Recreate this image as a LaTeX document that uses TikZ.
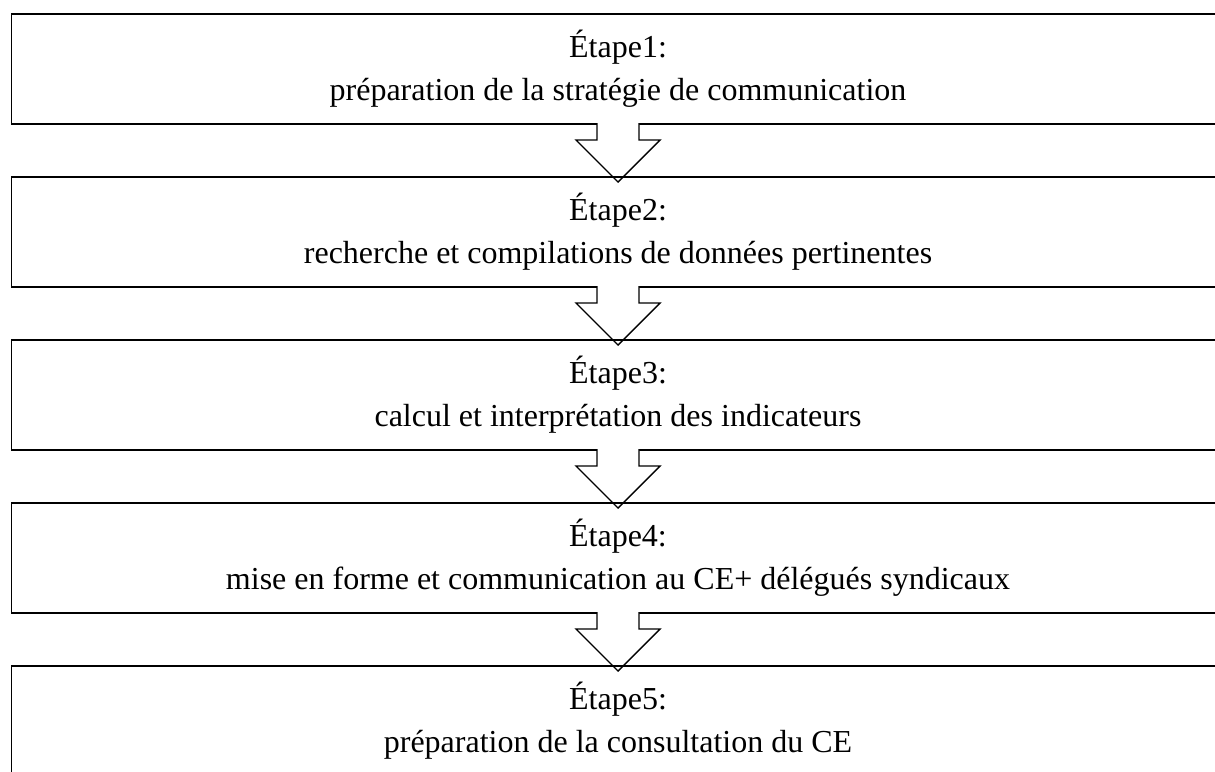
\documentclass[tikz,border=0pt]{standalone}
\usepackage{fontspec}
\setmainfont{Liberation Serif}
\usetikzlibrary{positioning}

\tikzset{
  etape/.style={draw, line width=1.5pt, minimum width=1213pt, minimum height=110pt,
    inner sep=0pt, outer sep=0pt, align=center, font=\fontsize{32}{43}\selectfont},
  fleche/.style={draw, fill=white, line width=1.4pt, line join=miter}
}

% fleche creuse sous une etape
\newcommand{\flechebas}[1]{%
  \draw[fleche] ([xshift=-21pt,yshift=1pt]#1.south) -- ++(0,-17) -- ++(-21,0)
    -- ++(42,-42) -- ++(42,42) -- ++(-21,0) -- ++(0,17);}

\begin{document}
\begin{tikzpicture}[x=1pt,y=1pt]

\useasboundingbox (0,0) rectangle (1215,-771);
\fill[white] (0,0) rectangle (1215,-771);
\clip (0,0) rectangle (1215,-771);

%Etapes

\node[etape] (e1) at (618,-69) {Étape1:\\préparation de la stratégie de communication};
\flechebas{e1}
\node[etape, below=53pt of e1] (e2) {Étape2:\\recherche et compilations de données pertinentes};
\flechebas{e2}
\node[etape, below=53pt of e2] (e3) {Étape3:\\calcul et interprétation des indicateurs};
\flechebas{e3}
\node[etape, below=53pt of e3] (e4) {Étape4:\\mise en forme et communication au CE+ délégués syndicaux};
\flechebas{e4}
\node[etape, below=53pt of e4] (e5) {Étape5:\\préparation de la consultation du CE};

\end{tikzpicture}
\end{document}
